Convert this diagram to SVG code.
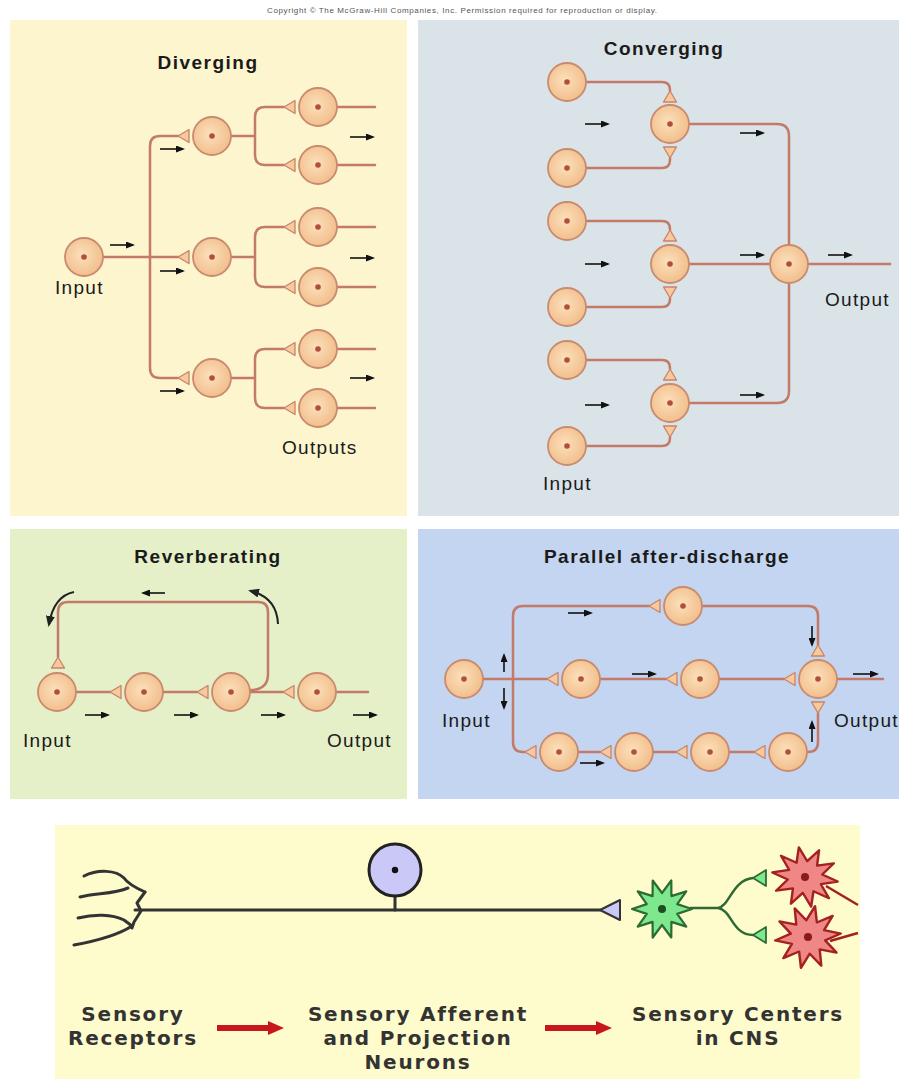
<svg xmlns="http://www.w3.org/2000/svg" width="899" height="1079" viewBox="0 0 899 1079">
  <style>
    .title { font-family: "Liberation Sans", Arial, sans-serif; font-weight: bold; font-size: 19px; letter-spacing: 1.5px; fill: #1a1a1a; text-anchor: middle; }
    .label { font-family: "Liberation Sans", Arial, sans-serif; font-size: 19px; letter-spacing: 1.3px; fill: #1a1a1a; }
    .axon { fill: none; stroke: #C47A68; stroke-width: 2.5; stroke-linecap: round; stroke-linejoin: round; }
    .syn { fill: #F7C99C; stroke: #C98468; stroke-width: 1.3; stroke-linejoin: round; }
    .flow { fill: none; stroke: #111; stroke-width: 1.6; marker-end: url(#tip); }
    .curl { fill: none; stroke: #222; stroke-width: 2; marker-end: url(#tipBig); }
    .big { font-family: "DejaVu Sans", Verdana, sans-serif; font-weight: bold; font-size: 20px; letter-spacing: 1.8px; fill: #333; text-anchor: middle; }
    .nerve { fill: none; stroke: #333; stroke-width: 3; stroke-linecap: round; stroke-linejoin: round; }
    .red-arrow { fill: none; stroke: #C8161D; stroke-width: 6; }
  </style>
  <defs>
    <radialGradient id="soma" cx="0.45" cy="0.45" r="0.6">
      <stop offset="0" stop-color="#FCE0BC"/>
      <stop offset="1" stop-color="#F1BC88"/>
    </radialGradient>
    <g id="cell">
      <circle r="19" fill="url(#soma)" stroke="#C98B70" stroke-width="1.8"/>
      <circle r="2.8" fill="#B0503A"/>
    </g>
    <path id="syn" class="syn" d="M0,0 L11,-6.5 L11,6.5 Z"/>
    <marker id="tip" markerUnits="userSpaceOnUse" markerWidth="9" markerHeight="7" refX="7" refY="3.5" orient="auto">
      <path d="M0,0 L9,3.5 L0,7 Z" fill="#111"/>
    </marker>
    <marker id="tipBig" markerUnits="userSpaceOnUse" markerWidth="11" markerHeight="9" refX="8" refY="4.5" orient="auto">
      <path d="M0,0 L11,4.5 L0,9 Z" fill="#222"/>
    </marker>
    <marker id="redTip" markerUnits="userSpaceOnUse" markerWidth="16" markerHeight="16" refX="2" refY="8" orient="auto">
      <path d="M0,1 L16,8 L0,15 Z" fill="#C8161D"/>
    </marker>
    <polygon id="star" points="30,0 15.2,4.9 24.3,17.6 9.4,12.9 9.3,28.5 0,16 -9.3,28.5 -9.4,12.9 -24.3,17.6 -15.2,4.9 -30,0 -15.2,-4.9 -24.3,-17.6 -9.4,-12.9 -9.3,-28.5 0,-16 9.3,-28.5 9.4,-12.9 24.3,-17.6 15.2,-4.9"/>
  </defs>

  <rect width="899" height="1079" fill="#ffffff"/>
  <text x="462" y="13" font-family="'Liberation Sans', Arial, sans-serif" font-size="8" fill="#555" text-anchor="middle" textLength="390" lengthAdjust="spacing">Copyright © The McGraw-Hill Companies, Inc. Permission required for reproduction or display.</text>

  <!-- panel backgrounds -->
  <rect x="10" y="20" width="397" height="496" fill="#FDF5CE"/>
  <rect x="418" y="20" width="481" height="496" fill="#DAE3E8"/>
  <rect x="10" y="529" width="397" height="270" fill="#E5EFC8"/>
  <rect x="418" y="529" width="481" height="270" fill="#C3D5F0"/>
  <rect x="55" y="825" width="805" height="254" fill="#FEFBCC"/>

  <!-- ===== Diverging ===== -->
  <text class="title" x="208" y="69">Diverging</text>
  <g id="diverging-connectors">
    <path class="axon" d="M103,257 H178"/>
    <path class="axon" d="M178,136 H160 Q150,136 150,146 V368 Q150,378 160,378 H178"/>
    <path class="axon" d="M231,136 H255 M284,107 H265 Q255,107 255,117 V155 Q255,165 265,165 H284"/>
    <path class="axon" d="M231,257 H255 M284,227 H265 Q255,227 255,237 V277 Q255,287 265,287 H284"/>
    <path class="axon" d="M231,378 H255 M284,349 H265 Q255,349 255,359 V398 Q255,408 265,408 H284"/>
    <path class="axon" d="M337,107 H375 M337,165 H375 M337,227 H375 M337,287 H375 M337,349 H375 M337,408 H375"/>
    <use href="#syn" transform="translate(178,136)"/>
    <use href="#syn" transform="translate(178,257)"/>
    <use href="#syn" transform="translate(178,378)"/>
    <use href="#syn" transform="translate(284,107)"/>
    <use href="#syn" transform="translate(284,165)"/>
    <use href="#syn" transform="translate(284,227)"/>
    <use href="#syn" transform="translate(284,287)"/>
    <use href="#syn" transform="translate(284,349)"/>
    <use href="#syn" transform="translate(284,408)"/>
    <path class="flow" d="M110,245 H133"/>
    <path class="flow" d="M160,149 H183"/>
    <path class="flow" d="M160,271 H183"/>
    <path class="flow" d="M160,391 H183"/>
    <path class="flow" d="M350,137 H373"/>
    <path class="flow" d="M350,258 H373"/>
    <path class="flow" d="M350,378 H373"/>
  </g>
  <g id="div-input"><use href="#cell" x="84" y="257"/></g>
  <g id="div-a"><use href="#cell" x="212" y="136"/></g>
  <g id="div-b"><use href="#cell" x="212" y="257"/></g>
  <g id="div-c"><use href="#cell" x="212" y="378"/></g>
  <g id="div-out1"><use href="#cell" x="318" y="107"/></g>
  <g id="div-out2"><use href="#cell" x="318" y="165"/></g>
  <g id="div-out3"><use href="#cell" x="318" y="227"/></g>
  <g id="div-out4"><use href="#cell" x="318" y="287"/></g>
  <g id="div-out5"><use href="#cell" x="318" y="349"/></g>
  <g id="div-out6"><use href="#cell" x="318" y="408"/></g>
  <text class="label" x="55" y="294">Input</text>
  <text class="label" x="282" y="454">Outputs</text>

  <!-- ===== Converging ===== -->
  <text class="title" x="664" y="55">Converging</text>
  <g id="converging-connectors">
    <path class="axon" d="M586,82 H662 Q670,82 670,90 V91"/>
    <path class="axon" d="M586,168 H662 Q670,168 670,160 V158"/>
    <path class="axon" d="M586,221 H662 Q670,221 670,229 V230"/>
    <path class="axon" d="M586,307 H662 Q670,307 670,299 V298"/>
    <path class="axon" d="M586,360 H662 Q670,360 670,368 V369"/>
    <path class="axon" d="M586,446 H662 Q670,446 670,438 V437"/>
    <path class="axon" d="M689,124 H777 Q789,124 789,136 V245"/>
    <path class="axon" d="M689,264 H770"/>
    <path class="axon" d="M689,403 H777 Q789,403 789,391 V283"/>
    <path class="axon" d="M808,264 H890"/>
    <use href="#syn" transform="translate(670,91) rotate(90)"/>
    <use href="#syn" transform="translate(670,158) rotate(-90)"/>
    <use href="#syn" transform="translate(670,230) rotate(90)"/>
    <use href="#syn" transform="translate(670,298) rotate(-90)"/>
    <use href="#syn" transform="translate(670,369) rotate(90)"/>
    <use href="#syn" transform="translate(670,437) rotate(-90)"/>
    <path class="flow" d="M585,124 H608"/>
    <path class="flow" d="M585,264 H608"/>
    <path class="flow" d="M585,405 H608"/>
    <path class="flow" d="M740,133 H763"/>
    <path class="flow" d="M740,255 H763"/>
    <path class="flow" d="M740,395 H763"/>
    <path class="flow" d="M828,255 H851"/>
  </g>
  <g id="conv-in1"><use href="#cell" x="567" y="82"/></g>
  <g id="conv-in2"><use href="#cell" x="567" y="168"/></g>
  <g id="conv-in3"><use href="#cell" x="567" y="221"/></g>
  <g id="conv-in4"><use href="#cell" x="567" y="307"/></g>
  <g id="conv-in5"><use href="#cell" x="567" y="360"/></g>
  <g id="conv-in6"><use href="#cell" x="567" y="446"/></g>
  <g id="conv-mid1"><use href="#cell" x="670" y="124"/></g>
  <g id="conv-mid2"><use href="#cell" x="670" y="264"/></g>
  <g id="conv-mid3"><use href="#cell" x="670" y="403"/></g>
  <g id="conv-out"><use href="#cell" x="789" y="264"/></g>
  <text class="label" x="825" y="306">Output</text>
  <text class="label" x="543" y="490">Input</text>

  <!-- ===== Reverberating ===== -->
  <text class="title" x="208" y="563">Reverberating</text>
  <g id="reverberating-connectors">
    <path class="axon" d="M76,692 H110"/>
    <path class="axon" d="M163,692 H197"/>
    <path class="axon" d="M250,692 H283"/>
    <path class="axon" d="M336,692 H368"/>
    <path class="axon" d="M250,690 Q268,690 268,674 V612 Q268,602 258,602 H68 Q58,602 58,612 V657"/>
    <use href="#syn" transform="translate(110,692)"/>
    <use href="#syn" transform="translate(197,692)"/>
    <use href="#syn" transform="translate(283,692)"/>
    <use href="#syn" transform="translate(58,657) rotate(90)"/>
    <path class="flow" d="M165,593 H143"/>
    <path class="curl" d="M74,592 Q54,596 49,624"/>
    <path class="curl" d="M278,624 Q277,598 251,591"/>
    <path class="flow" d="M85,715 H108"/>
    <path class="flow" d="M174,715 H197"/>
    <path class="flow" d="M261,715 H284"/>
    <path class="flow" d="M353,715 H376"/>
  </g>
  <g id="rev-1"><use href="#cell" x="57" y="692"/></g>
  <g id="rev-2"><use href="#cell" x="144" y="692"/></g>
  <g id="rev-3"><use href="#cell" x="231" y="692"/></g>
  <g id="rev-4"><use href="#cell" x="317" y="692"/></g>
  <text class="label" x="23" y="747">Input</text>
  <text class="label" x="327" y="747">Output</text>

  <!-- ===== Parallel after-discharge ===== -->
  <text class="title" x="667" y="563">Parallel after-discharge</text>
  <g id="parallel-connectors">
    <path class="axon" d="M483,679 H547"/>
    <path class="axon" d="M649,606 H523 Q513,606 513,616 V742 Q513,752 523,752 H525"/>
    <path class="axon" d="M702,606 H808 Q818,606 818,616 V645"/>
    <path class="axon" d="M600,679 H666"/>
    <path class="axon" d="M719,679 H784"/>
    <path class="axon" d="M837,679 H883"/>
    <path class="axon" d="M578,752 H600"/>
    <path class="axon" d="M653,752 H676"/>
    <path class="axon" d="M729,752 H754"/>
    <path class="axon" d="M807,752 H808 Q818,752 818,742 V713"/>
    <use href="#syn" transform="translate(547,679)"/>
    <use href="#syn" transform="translate(649,606)"/>
    <use href="#syn" transform="translate(666,679)"/>
    <use href="#syn" transform="translate(784,679)"/>
    <use href="#syn" transform="translate(525,752)"/>
    <use href="#syn" transform="translate(600,752)"/>
    <use href="#syn" transform="translate(676,752)"/>
    <use href="#syn" transform="translate(754,752)"/>
    <use href="#syn" transform="translate(818,645) rotate(90)"/>
    <use href="#syn" transform="translate(818,713) rotate(-90)"/>
    <path class="flow" d="M568,613 H591"/>
    <path class="flow" d="M632,674 H655"/>
    <path class="flow" d="M853,674 H877"/>
    <path class="flow" d="M580,763 H603"/>
    <path class="flow" d="M504,672 V655"/>
    <path class="flow" d="M504,688 V708"/>
    <path class="flow" d="M812,626 V645"/>
    <path class="flow" d="M812,742 V722"/>
  </g>
  <g id="par-input"><use href="#cell" x="464" y="679"/></g>
  <g id="par-top"><use href="#cell" x="683" y="606"/></g>
  <g id="par-mid1"><use href="#cell" x="581" y="679"/></g>
  <g id="par-mid2"><use href="#cell" x="700" y="679"/></g>
  <g id="par-out"><use href="#cell" x="818" y="679"/></g>
  <g id="par-low1"><use href="#cell" x="559" y="752"/></g>
  <g id="par-low2"><use href="#cell" x="634" y="752"/></g>
  <g id="par-low3"><use href="#cell" x="710" y="752"/></g>
  <g id="par-low4"><use href="#cell" x="788" y="752"/></g>
  <text class="label" x="442" y="727">Input</text>
  <text class="label" x="834" y="727">Output</text>

  <!-- ===== Sensory pathway ===== -->
  <g id="pathway-connectors">
    <path class="nerve" d="M135,910 H600"/>
    <path class="nerve" d="M395,896 V910"/>
    <path d="M690,908 H718 M718,908 C730,906 732,880 753,878 M718,908 C732,910 732,935 753,935" fill="none" stroke="#2E6B33" stroke-width="2.5"/>
    <path d="M826,886 L858,905 M830,941 L858,933" fill="none" stroke="#A32121" stroke-width="2.5"/>
    <path class="red-arrow" d="M217,1028 H270" marker-end="url(#redTip)"/>
    <path class="red-arrow" d="M545,1028 H598" marker-end="url(#redTip)"/>
  </g>
  <g id="receptor-endings">
    <path class="nerve" d="M84,876 C98,869 116,870 124,878 C128,884 136,888 145,892"/>
    <path class="nerve" d="M145,892 L137,903 L141,911 L134,922 L132,928"/>
    <path class="nerve" d="M80,897 C96,893 114,894 128,888"/>
    <path class="nerve" d="M78,918 C94,914 112,914 124,920 L132,926"/>
    <path class="nerve" d="M74,945 C96,941 118,935 132,926"/>
  </g>
  <g id="afferent-soma">
    <circle cx="395" cy="870" r="26" fill="#C9C8F6" stroke="#222" stroke-width="3"/>
    <circle cx="395" cy="870" r="3.2" fill="#111"/>
  </g>
  <g id="afferent-terminal">
    <path d="M600,910 L620,900 L620,920 Z" fill="#C9C8F6" stroke="#333" stroke-width="2" stroke-linejoin="round"/>
  </g>
  <g id="interneuron">
    <use href="#star" transform="translate(662,909)" fill="#7DE88E" stroke="#2E6B33" stroke-width="2.2" stroke-linejoin="round"/>
    <circle cx="662" cy="909" r="4" fill="#1E4D22"/>
    <path d="M753,878 L766,870 L766,886 Z M753,935 L766,927 L766,943 Z" fill="#7DE88E" stroke="#2E6B33" stroke-width="1.8" stroke-linejoin="round"/>
  </g>
  <g id="center-cell-1">
    <use href="#star" transform="translate(805,877) rotate(8) scale(1.1,1)" fill="#F08787" stroke="#A32121" stroke-width="2.2" stroke-linejoin="round"/>
    <circle cx="805" cy="877" r="4" fill="#8B1A1A"/>
  </g>
  <g id="center-cell-2">
    <use href="#star" transform="translate(808,937) rotate(-6) scale(1.1,1.05)" fill="#F08787" stroke="#A32121" stroke-width="2.2" stroke-linejoin="round"/>
    <circle cx="808" cy="937" r="4" fill="#8B1A1A"/>
  </g>
  <text class="big" x="133" y="1021">Sensory</text>
  <text class="big" x="133" y="1045">Receptors</text>
  <text class="big" x="418" y="1021">Sensory Afferent</text>
  <text class="big" x="418" y="1045">and Projection</text>
  <text class="big" x="418" y="1069">Neurons</text>
  <text class="big" x="738" y="1021">Sensory Centers</text>
  <text class="big" x="738" y="1045">in CNS</text>
</svg>
